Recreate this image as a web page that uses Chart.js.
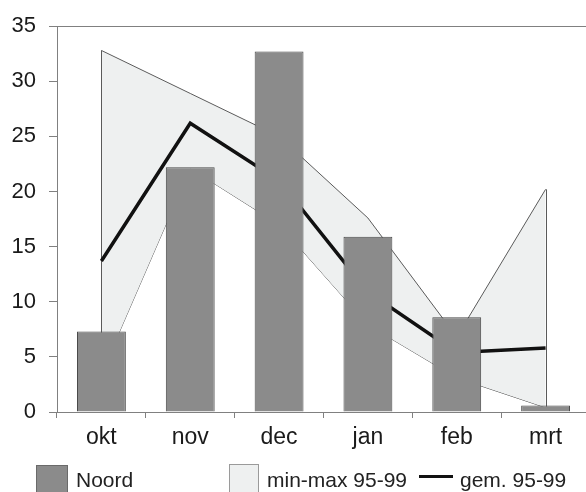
<!DOCTYPE html>
<html>
<head>
<meta charset="utf-8">
<script src="https://cdn.jsdelivr.net/npm/chart.js@4/dist/chart.umd.min.js"></script>
<style>
  html, body { margin: 0; padding: 0; background: #fff; overflow: hidden; width: 586px; height: 492px; }
  #wrap { position: absolute; left: 0; top: 0; width: 600px; height: 492px; }
  #legend { position: absolute; left: 0; top: 0; width: 586px; height: 492px; pointer-events: none;
            font-family: 'Liberation Sans', Arial, sans-serif; font-size: 21px; color: #222; }
  #legend .sw { position: absolute; box-sizing: border-box; }
  #legend .tx { position: absolute; line-height: 21px; white-space: nowrap; }
</style>
</head>
<body>
<div id="wrap"><canvas id="c" width="600" height="492"></canvas></div>
<div id="legend"></div>
<script>
// Months of the season
const categories = ['okt', 'nov', 'dec', 'jan', 'feb', 'mrt'];
// Noord, current season
const noord = [7.3, 22.2, 32.7, 15.9, 8.6, 0.6];
// Range over 95-99
const minVals = [3.5, 22.1, 17.0, 7.9, 3.1, 0.4];
const maxVals = [32.8, 28.9, 25.0, 17.6, 6.8, 20.2];
// Average over 95-99
const gemVals = [13.7, 26.2, 21.0, 10.9, 5.4, 5.8];
// Y axis ticks
const yTicks = [0, 5, 10, 15, 20, 25, 30, 35];

const labels = { noord: 'Noord', band: 'min-max 95-99', gem: 'gem. 95-99' };

const FONT = "'Liberation Sans', Arial, sans-serif";
const BAR_FILL = '#8b8b8b';
const BAR_EDGE = '#4a4a4a';
const BAND_FILL = '#eef0f0';
const BAND_EDGE = '#5a5a5a';
const AXIS = '#808080';

// Closes the band with vertical edges at the first and last month
const bandEdges = {
  id: 'bandEdges',
  afterDatasetDraw(chart, args) {
    if (args.index !== 2) return;
    const { ctx, scales: { x, y } } = chart;
    ctx.save();
    ctx.strokeStyle = BAND_EDGE;
    ctx.lineWidth = 1;
    [0, categories.length - 1].forEach(i => {
      const px = Math.round(x.getPixelForValue(i)) + 0.5;
      ctx.beginPath();
      ctx.moveTo(px, y.getPixelForValue(minVals[i]));
      ctx.lineTo(px, y.getPixelForValue(maxVals[i]));
      ctx.stroke();
    });
    ctx.restore();
  }
};

new Chart(document.getElementById('c'), {
  type: 'bar',
  data: {
    labels: categories,
    datasets: [
      {
        type: 'bar', label: labels.noord, data: noord, order: 0,
        backgroundColor: BAR_FILL, borderColor: BAR_EDGE, borderWidth: 1,
        categoryPercentage: 1, barPercentage: 0.55
      },
      {
        type: 'line', label: 'min', data: minVals, order: 3,
        borderColor: BAND_EDGE, borderWidth: 1, pointRadius: 0, fill: false, tension: 0
      },
      {
        type: 'line', label: labels.band, data: maxVals, order: 2,
        borderColor: BAND_EDGE, borderWidth: 1, pointRadius: 0, tension: 0,
        fill: '-1', backgroundColor: BAND_FILL
      },
      {
        type: 'line', label: labels.gem, data: gemVals, order: 1,
        borderColor: '#111', borderWidth: 3.5, pointRadius: 0, fill: false, tension: 0,
        borderJoinStyle: 'miter'
      }
    ]
  },
  options: {
    responsive: false,
    animation: false,
    layout: { padding: { top: 23, right: 10, left: 0, bottom: 0 } },
    plugins: { legend: { display: false }, tooltip: { enabled: false } },
    scales: {
      x: {
        offset: true,
        grid: { display: true, offset: true, drawOnChartArea: false, tickLength: 6, color: AXIS, tickColor: AXIS },
        border: { display: true, color: AXIS, width: 1 },
        ticks: { color: '#1a1a1a', font: { family: FONT, size: 23 }, padding: 6 },
        afterFit(s) { s.height = 80; }
      },
      y: {
        min: 0, max: 35,
        afterBuildTicks(s) { s.ticks = yTicks.map(v => ({ value: v })); },
        grid: {
          display: true, drawOnChartArea: true, tickLength: 8,
          color: c => (c.tick && c.tick.value === 35 ? AXIS : 'rgba(0,0,0,0)'),
          tickColor: AXIS
        },
        border: { display: true, color: AXIS, width: 1 },
        ticks: { color: '#1a1a1a', font: { family: FONT, size: 22 }, padding: 13 },
        afterFit(s) { s.width = 57; }
      }
    }
  },
  plugins: [bandEdges]
});

// Legend below the plot
const legend = document.getElementById('legend');
function add(cls, style, text) {
  const d = document.createElement('div');
  d.className = cls;
  Object.assign(d.style, style);
  if (text) d.textContent = text;
  legend.appendChild(d);
}
add('sw', { left: '36px', top: '465px', width: '32px', height: '32px', background: BAR_FILL, border: '1px solid #6a6a6a' });
add('tx', { left: '76px', top: '469px' }, labels.noord);
add('sw', { left: '229px', top: '464px', width: '30px', height: '32px', background: BAND_FILL, border: '1px solid #9a9a9a' });
add('tx', { left: '267px', top: '469px' }, labels.band);
add('sw', { left: '419px', top: '474.5px', width: '34px', height: '3px', background: '#111' });
add('tx', { left: '460px', top: '469px' }, labels.gem);
</script>
</body>
</html>
